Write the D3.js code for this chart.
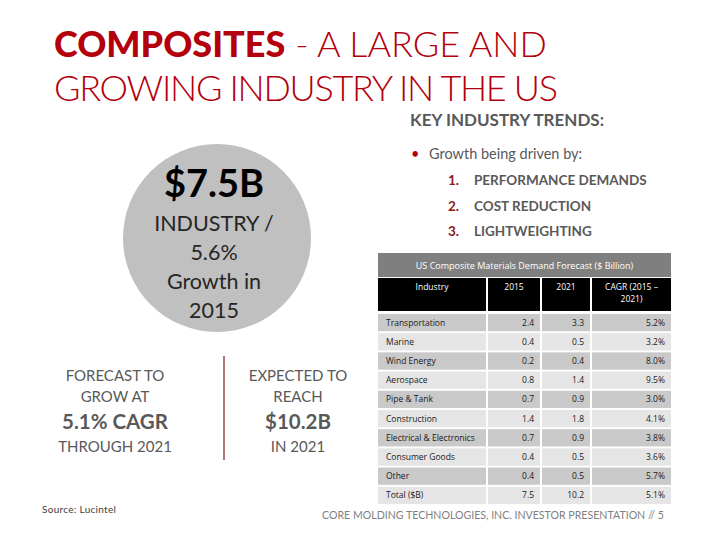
<!DOCTYPE html>
<html>
<head>
<meta charset="utf-8">
<script src="https://cdn.jsdelivr.net/npm/d3@7"></script>
<style>
  html, body { margin: 0; padding: 0; background: #fff; }
  svg { display: block; }
</style>
</head>
<body>
<svg id="chart" width="720" height="540"></svg>
<script>
// ---- data ----
const industries = ["Transportation", "Marine", "Wind Energy", "Aerospace", "Pipe & Tank",
  "Construction", "Electrical & Electronics", "Consumer Goods", "Other", "Total ($B)"];
const demand2015 = ["2.4", "0.4", "0.2", "0.8", "0.7", "1.4", "0.7", "0.4", "0.4", "7.5"];
const demand2021 = ["3.3", "0.5", "0.4", "1.4", "0.9", "1.8", "0.9", "0.5", "0.5", "10.2"];
const cagr = ["5.2%", "3.2%", "8.0%", "9.5%", "3.0%", "4.1%", "3.8%", "3.6%", "5.7%", "5.1%"];
const columnHeaders = ["Industry", "2015", "2021", "CAGR (2015 –|2021)"];
const tableTitle = "US Composite Materials Demand Forecast ($ Billion)";
const trends = ["PERFORMANCE DEMANDS", "COST REDUCTION", "LIGHTWEIGHTING"];
const circleLines = ["INDUSTRY /", "5.6%", "Growth in", "2015"];
const leftStat = ["FORECAST TO", "GROW AT", "5.1% CAGR", "THROUGH 2021"];
const rightStat = ["EXPECTED TO", "REACH", "$10.2B", "IN 2021"];

const svg = d3.select("#chart");
const red = "#b3000c";
const grey = "#595959";
const sans = "Lato, 'Open Sans', sans-serif";

// ---- title ----
const t1 = svg.append("text").attr("x", 54).attr("y", 57)
  .attr("font-family", sans).attr("font-size", 36).attr("fill", red);
t1.append("tspan").attr("font-weight", 900).text("COMPOSITES");
t1.append("tspan").attr("font-weight", 300).text(" - A LARGE AND");
svg.append("text").attr("x", 54).attr("y", 101)
  .attr("font-family", sans).attr("font-size", 36).attr("font-weight", 300).attr("fill", red)
  .attr("textLength", 504).attr("lengthAdjust", "spacing")
  .text("GROWING INDUSTRY IN THE US");

// ---- key trends ----
svg.append("text").attr("x", 410).attr("y", 126)
  .attr("font-family", sans).attr("font-size", 17).attr("font-weight", 700).attr("fill", grey)
  .text("KEY INDUSTRY TRENDS:");
svg.append("text").attr("x", 411).attr("y", 159)
  .attr("font-family", sans).attr("font-size", 14.5).attr("fill", red).text("•");
svg.append("text").attr("x", 429).attr("y", 159)
  .attr("font-family", sans).attr("font-size", 14.5).attr("fill", grey).text("Growth being driven by:");
const trendY = d3.scalePoint().domain(trends).range([185, 236]);
trends.forEach((t, i) => {
  svg.append("text").attr("x", 448).attr("y", trendY(t))
    .attr("font-family", sans).attr("font-size", 13.5).attr("font-weight", 700).attr("fill", "#8b1a1a")
    .text((i + 1) + ".");
  svg.append("text").attr("x", 474).attr("y", trendY(t))
    .attr("font-family", sans).attr("font-size", 13.5).attr("font-weight", 700).attr("fill", grey)
    .text(t);
});

// ---- circle ----
svg.append("circle").attr("cx", 217).attr("cy", 238).attr("r", 94).attr("fill", "#c0c0c0");
svg.append("text").attr("x", 214).attr("y", 197).attr("text-anchor", "middle")
  .attr("font-family", sans).attr("font-size", 38).attr("font-weight", 700).attr("fill", "#000")
  .text("$7.5B");
const cy = d3.scalePoint().domain(circleLines).range([231, 318]);
circleLines.forEach(l => {
  svg.append("text").attr("x", 214).attr("y", cy(l)).attr("text-anchor", "middle")
    .attr("font-family", sans).attr("font-size", 21.5).attr("fill", "#262626").text(l);
});

// ---- bottom stats ----
function stat(lines, cx) {
  const ys = [381, 402, 429, 452];
  lines.forEach((l, i) => {
    svg.append("text").attr("x", cx).attr("y", ys[i]).attr("text-anchor", "middle")
      .attr("font-family", sans).attr("font-size", i === 2 ? 20.5 : 15)
      .attr("font-weight", i === 2 ? 700 : 400).attr("fill", grey).text(l);
  });
}
stat(leftStat, 115);
stat(rightStat, 298);
svg.append("line").attr("x1", 224).attr("x2", 224).attr("y1", 356).attr("y2", 460)
  .attr("stroke", "#7a1f1f").attr("stroke-width", 1.2);

svg.append("text").attr("x", 42).attr("y", 513)
  .attr("font-family", sans).attr("font-size", 10).attr("fill", "#404040")
  .attr("letter-spacing", 0.3).text("Source:  Lucintel");

svg.append("text").attr("x", 322).attr("y", 519)
  .attr("font-family", sans).attr("font-size", 11).attr("fill", "#7f7f7f")
  .attr("textLength", 342).attr("lengthAdjust", "spacingAndGlyphs")
  .text("CORE MOLDING TECHNOLOGIES, INC.  INVESTOR PRESENTATION // 5");

// ---- table ----
const tableLeft = 378, tableRight = 671;
const colEdges = [378, 487, 541, 591, 671];
const tf = "'Open Sans', Lato, sans-serif";
svg.append("rect").attr("x", tableLeft).attr("y", 253).attr("width", tableRight - tableLeft).attr("height", 24)
  .attr("fill", "#7f7f7f");
svg.append("text").attr("x", (tableLeft + tableRight) / 2).attr("y", 269).attr("text-anchor", "middle")
  .attr("font-family", tf).attr("font-size", 9).attr("fill", "#fff").text(tableTitle);

columnHeaders.forEach((h, i) => {
  const x0 = colEdges[i] + (i === 0 ? 0 : 1), x1 = colEdges[i + 1] - (i === 3 ? 0 : 1);
  svg.append("rect").attr("x", x0).attr("y", 278).attr("width", x1 - x0).attr("height", 33).attr("fill", "#000");
  h.split("|").forEach((part, j) => {
    svg.append("text").attr("x", (x0 + x1) / 2).attr("y", 290 + j * 12).attr("text-anchor", "middle")
      .attr("font-family", tf).attr("font-size", 8.5).attr("fill", "#fff").text(part);
  });
});

const rowY = d3.scaleBand().domain(industries).range([313, 505]).paddingInner(0.1).paddingOuter(0.05);
const cols = [industries, demand2015, demand2021, cagr];
industries.forEach((ind, r) => {
  const fill = r % 2 === 0 ? "#c9c9c9" : "#e5e5e5";
  cols.forEach((col, c) => {
    const x0 = colEdges[c] + (c === 0 ? 0 : 1), x1 = colEdges[c + 1] - (c === 3 ? 0 : 1);
    svg.append("rect").attr("x", x0).attr("y", rowY(ind)).attr("width", x1 - x0)
      .attr("height", rowY.bandwidth()).attr("fill", fill);
    svg.append("text")
      .attr("x", c === 0 ? x0 + 8 : x1 - 6)
      .attr("y", rowY(ind) + rowY.bandwidth() / 2 + 3)
      .attr("text-anchor", c === 0 ? "start" : "end")
      .attr("font-family", tf).attr("font-size", 8.5).attr("fill", "#1a1a1a").text(col[r]);
  });
});
</script>
</body>
</html>
